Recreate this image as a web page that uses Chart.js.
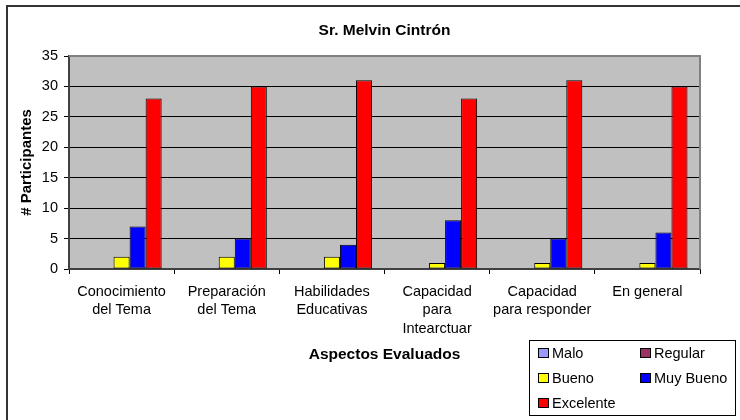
<!DOCTYPE html>
<html lang="es">
<head>
<meta charset="UTF-8">
<title>Sr. Melvin Cintrón</title>
<script src="https://cdn.jsdelivr.net/npm/chart.js@4"></script>
<style>
  body { margin: 0; background: #fff; }
  canvas { display: block; }
</style>
</head>
<body>
<canvas id="chart" width="740" height="420"></canvas>
<script>
// datos
const chartTitle = 'Sr. Melvin Cintrón';
const categories = [
  ['Conocimiento', 'del Tema'],
  ['Preparación', 'del Tema'],
  ['Habilidades', 'Educativas'],
  ['Capacidad', 'para', 'Intearctuar'],
  ['Capacidad', 'para responder'],
  ['En general']
];
const seriesNames = ['Malo', 'Regular', 'Bueno', 'Muy Bueno', 'Excelente'];
const malo      = [0, 0, 0, 0, 0, 0];
const regular   = [0, 0, 0, 0, 0, 0];
const bueno     = [2, 2, 2, 1, 1, 1];
const muyBueno  = [7, 5, 4, 8, 5, 6];
const excelente = [28, 30, 31, 28, 31, 30];
const yMax = 35;
const yStep = 5;

const colors = ['#9999ff', '#993366', '#ffff00', '#0000ff', '#ff0000'];
const font = "'Liberation Sans', Arial, sans-serif";

const series = [malo, regular, bueno, muyBueno, excelente];
const datasets = [];
for (let i in series) {
  datasets.push({
    label: seriesNames[i],
    data: series[i],
    backgroundColor: colors[i],
    borderColor: '#000',
    borderWidth: 1,
    borderSkipped: false,
    barPercentage: 1,
    categoryPercentage: 0.762
  });
}

// fondo, marco exterior, area gris, titulo y leyenda
const frame = {
  id: 'frame',
  beforeDraw(chart) {
    const c = chart.ctx;
    const a = chart.chartArea;
    c.save();
    c.fillStyle = '#fff';
    c.fillRect(0, 0, chart.width, chart.height);
    c.strokeStyle = '#333';
    c.lineWidth = 2;
    c.strokeRect(7, 6, 800, 500);
    c.fillStyle = '#c0c0c0';
    c.fillRect(a.left, a.top, a.right - a.left, a.bottom - a.top);
    c.restore();
  },
  beforeDatasetsDraw(chart) {
    const c = chart.ctx;
    const a = chart.chartArea;
    c.save();
    c.strokeStyle = '#808080';
    c.lineWidth = 2;
    c.beginPath();
    c.moveTo(a.left, a.top);
    c.lineTo(a.right, a.top);
    c.lineTo(a.right, a.bottom);
    c.stroke();
    c.restore();
  },
  afterDraw(chart) {
    const c = chart.ctx;
    const a = chart.chartArea;
    c.save();
    // titulo centrado sobre el area de trazado
    c.fillStyle = '#000';
    c.font = 'bold 15.5px ' + font;
    c.textAlign = 'center';
    c.textBaseline = 'middle';
    c.fillText(chartTitle, (a.left + a.right) / 2, 31);

    c.textAlign = 'left';
    c.strokeStyle = '#000';
    c.lineWidth = 1;
    c.strokeRect(529.5, 340.5, 206, 75);
    c.font = '14.5px ' + font;
    const cols = [538, 640];
    const rows = [353, 378, 403];
    chart.data.datasets.forEach((ds, i) => {
      const x = cols[i % 2];
      const y = rows[Math.floor(i / 2)];
      c.fillStyle = ds.backgroundColor;
      c.fillRect(x, y - 5, 11, 10);
      c.strokeStyle = '#000';
      c.lineWidth = 1;
      c.strokeRect(x + 0.5, y - 4.5, 10, 9);
      c.fillStyle = '#000';
      c.fillText(ds.label, x + 14, y + 1);
    });
    c.restore();
  }
};

new Chart(document.getElementById('chart'), {
  type: 'bar',
  data: { labels: categories, datasets: datasets },
  plugins: [frame],
  options: {
    responsive: false,
    animation: false,
    devicePixelRatio: 1,
    layout: { padding: { left: 0, right: 40, top: 56, bottom: 0 } },
    plugins: {
      legend: { display: false },
      tooltip: { enabled: false },
      title: { display: false }
    },
    scales: {
      x: {
        afterFit(scale) { scale.height = 151; },
        grid: { drawOnChartArea: false, tickLength: 5, color: '#000' },
        border: { color: '#404040', width: 2 },
        ticks: {
          color: '#000',
          padding: 8.5,
          maxRotation: 0,
          autoSkip: false,
          font: { family: font, size: 14.5, lineHeight: 18.5 / 14.5 }
        },
        title: {
          display: true,
          text: 'Aspectos Evaluados',
          color: '#000',
          font: { family: font, size: 15.5, weight: 'bold' },
          padding: { top: 0, bottom: 55.7 }
        }
      },
      y: {
        min: 0,
        max: yMax,
        afterFit(scale) { scale.width = 69; },
        grid: { color: '#000', tickLength: 5 },
        border: { color: '#404040', width: 2 },
        ticks: {
          stepSize: yStep,
          color: '#000',
          padding: 6,
          font: { family: font, size: 14.5 }
        },
        title: {
          display: true,
          text: '# Participantes',
          color: '#000',
          font: { family: font, size: 15, weight: 'bold' },
          padding: { top: 18, bottom: 0 }
        }
      }
    }
  }
});
</script>
</body>
</html>
